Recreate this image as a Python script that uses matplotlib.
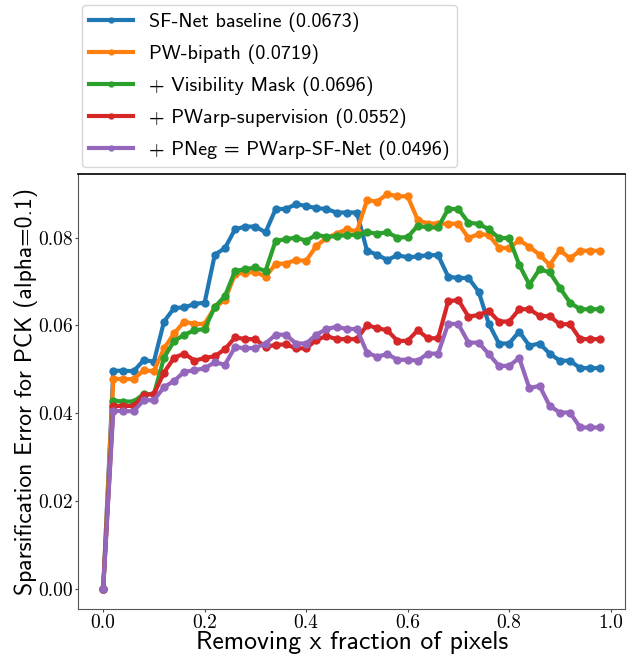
import numpy as np
import matplotlib
matplotlib.use("Agg")
import matplotlib.pyplot as plt

# fraction of pixels removed
x = np.arange(0, 1, 0.02)

labels = [
    "SF-Net baseline (0.0673)",
    "PW-bipath (0.0719)",
    "+ Visibility Mask (0.0696)",
    "+ PWarp-supervision (0.0552)",
    "+ PNeg = PWarp-SF-Net (0.0496)",
]
colors = ["#1f77b4", "#ff7f0e", "#2ca02c", "#d62728", "#9467bd"]

sfnet = [0.0, 0.0497, 0.0497, 0.0496, 0.0521, 0.0518, 0.0609, 0.0640, 0.0641, 0.0649,
         0.0652, 0.0761, 0.0776, 0.0819, 0.0825, 0.0825, 0.0812, 0.0865, 0.0865, 0.0876,
         0.0872, 0.0867, 0.0865, 0.0857, 0.0857, 0.0857, 0.0770, 0.0761, 0.0749, 0.0760,
         0.0755, 0.0757, 0.0760, 0.0760, 0.0711, 0.0708, 0.0708, 0.0677, 0.0604, 0.0559,
         0.0559, 0.0586, 0.0554, 0.0559, 0.0536, 0.0520, 0.0520, 0.0503, 0.0503, 0.0503]
bipath = [0.0, 0.0479, 0.0478, 0.0478, 0.0498, 0.0496, 0.0548, 0.0582, 0.0609, 0.0603,
          0.0604, 0.0641, 0.0658, 0.0717, 0.0720, 0.0722, 0.0711, 0.0740, 0.0741, 0.0749,
          0.0747, 0.0781, 0.0799, 0.0809, 0.0819, 0.0814, 0.0885, 0.0882, 0.0899, 0.0894,
          0.0894, 0.0840, 0.0832, 0.0832, 0.0831, 0.0832, 0.0799, 0.0808, 0.0806, 0.0777,
          0.0776, 0.0794, 0.0779, 0.0761, 0.0738, 0.0771, 0.0753, 0.0770, 0.0770, 0.0770]
vismask = [0.0, 0.0429, 0.0427, 0.0427, 0.0444, 0.0444, 0.0527, 0.0565, 0.0579, 0.0589,
           0.0592, 0.0642, 0.0667, 0.0724, 0.0728, 0.0732, 0.0724, 0.0793, 0.0796, 0.0800,
           0.0793, 0.0806, 0.0802, 0.0803, 0.0806, 0.0806, 0.0812, 0.0809, 0.0812, 0.0800,
           0.0801, 0.0827, 0.0823, 0.0823, 0.0865, 0.0865, 0.0834, 0.0831, 0.0819, 0.0799,
           0.0799, 0.0738, 0.0693, 0.0728, 0.0721, 0.0686, 0.0652, 0.0637, 0.0637, 0.0637]
pwarp = [0.0, 0.0417, 0.0417, 0.0417, 0.0442, 0.0444, 0.0493, 0.0527, 0.0536, 0.0520,
         0.0526, 0.0530, 0.0546, 0.0573, 0.0569, 0.0569, 0.0551, 0.0556, 0.0557, 0.0548,
         0.0548, 0.0567, 0.0576, 0.0569, 0.0569, 0.0569, 0.0601, 0.0594, 0.0589, 0.0565,
         0.0565, 0.0589, 0.0571, 0.0571, 0.0655, 0.0658, 0.0620, 0.0624, 0.0633, 0.0609,
         0.0609, 0.0637, 0.0637, 0.0622, 0.0621, 0.0603, 0.0603, 0.0569, 0.0569, 0.0569]
pneg = [0.0, 0.0406, 0.0405, 0.0405, 0.0430, 0.0430, 0.0460, 0.0474, 0.0495, 0.0498,
        0.0503, 0.0516, 0.0511, 0.0551, 0.0548, 0.0549, 0.0559, 0.0579, 0.0579, 0.0559,
        0.0559, 0.0579, 0.0592, 0.0597, 0.0592, 0.0592, 0.0538, 0.0529, 0.0535, 0.0522,
        0.0522, 0.0520, 0.0536, 0.0536, 0.0604, 0.0603, 0.0561, 0.0561, 0.0535, 0.0508,
        0.0508, 0.0526, 0.0457, 0.0463, 0.0417, 0.0402, 0.0402, 0.0368, 0.0368, 0.0368]

series = [sfnet, bipath, vismask, pwarp, pneg]

fig = plt.figure(figsize=(6.35, 6.57), dpi=100)
ax = fig.add_axes([0.1233, 0.0731, 0.8614, 0.6616])

for y, lab, c in zip(series, labels, colors):
    ax.plot(x, y, "-o", color=c, lw=3, ms=5, label=lab)

ax.set_xticks([0.0, 0.2, 0.4, 0.6, 0.8, 1.0])
ax.set_yticks([0.0, 0.02, 0.04, 0.06, 0.08])
ax.set_xticklabels(["0.0", "0.2", "0.4", "0.6", "0.8", "1.0"], family="cmr10", fontsize=14)
ax.set_yticklabels(["0.00", "0.02", "0.04", "0.06", "0.08"], family="cmr10", fontsize=14)
ax.tick_params(length=2, width=0.8, color="#444444", pad=2)

for s in ["left", "bottom", "right"]:
    ax.spines[s].set_color("#555555")
ax.spines["top"].set_color("black")
ax.spines["top"].set_linewidth(1.2)

ax.set_xlabel("Removing x fraction of pixels", family="cmss10", fontsize=18.5, labelpad=-1)
ax.set_ylabel("Sparsification Error for PCK (alpha=0.1)", family="cmss10", fontsize=17, labelpad=0)

leg = ax.legend(loc="lower left", bbox_to_anchor=(0.129, 0.746), bbox_transform=fig.transFigure,
                borderaxespad=0, prop={"family": "cmss10", "size": 14.5}, markerscale=0.7,
                handlelength=2.2, borderpad=0.35, labelspacing=0.62, frameon=True)

fig.savefig("out.png", dpi=100)
